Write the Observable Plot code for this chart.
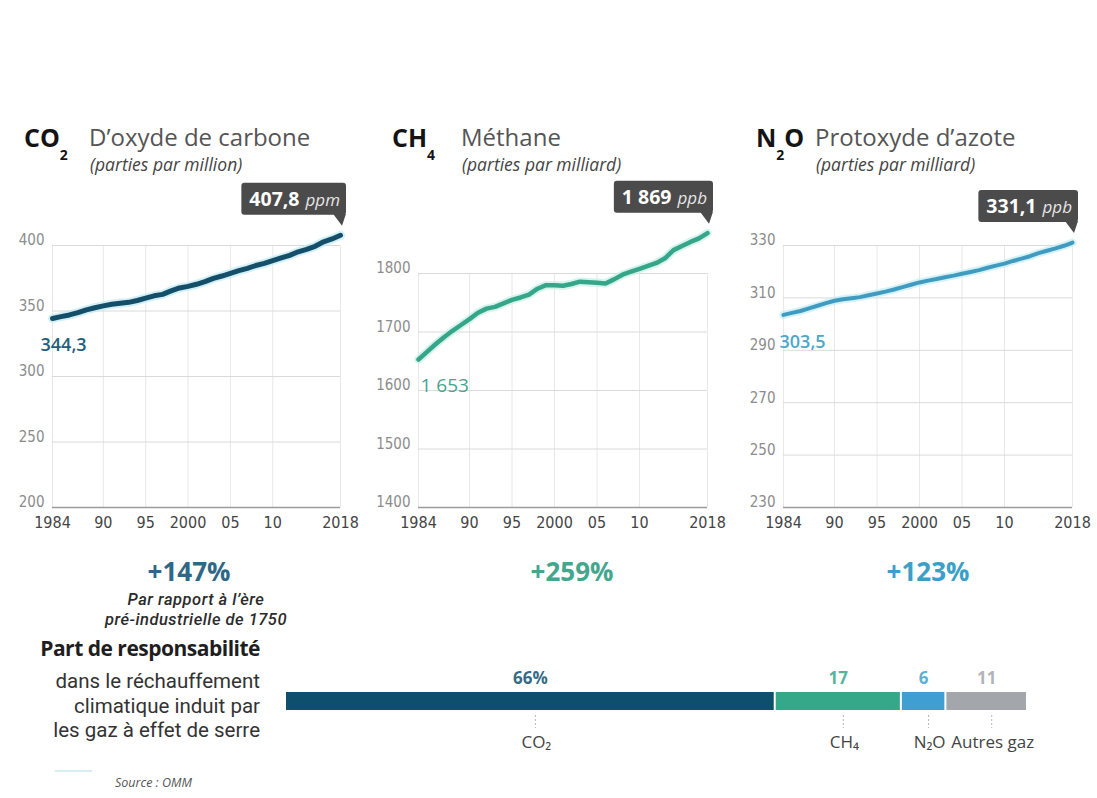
<!DOCTYPE html>
<html>
<head>
<meta charset="utf-8">
<script src="https://cdn.jsdelivr.net/npm/d3@7"></script>
<script src="https://cdn.jsdelivr.net/npm/@observablehq/plot@0.6"></script>
<style>
  html, body { margin: 0; padding: 0; background: #fff; }
  #page { position: relative; width: 1097px; height: 798px; overflow: hidden; background: #fff; font-family: "Open Sans", sans-serif; }
  .panel { position: absolute; }
  #overlay { position: absolute; left: 0; top: 0; pointer-events: none; }
</style>
</head>
<body>
<div id="page"></div>
<script>
// Annual global mean concentrations, 1984–2018
const years = [1984, 1985, 1986, 1987, 1988, 1989, 1990, 1991, 1992, 1993, 1994, 1995, 1996, 1997, 1998, 1999,
  2000, 2001, 2002, 2003, 2004, 2005, 2006, 2007, 2008, 2009, 2010, 2011, 2012, 2013, 2014, 2015, 2016, 2017, 2018];
const co2 = [344.3, 345.7, 347.0, 348.7, 350.9, 352.5, 353.9, 355.2, 355.9, 356.6, 358.0, 359.8, 361.6, 362.7, 365.4, 367.6,
  368.8, 370.4, 372.4, 374.9, 376.7, 378.7, 380.8, 382.6, 384.7, 386.3, 388.5, 390.5, 392.5, 395.2, 397.1, 399.4, 402.8, 405.0, 407.8];
const ch4 = [1653, 1666, 1679, 1691, 1702, 1712, 1722, 1733, 1740, 1743, 1749, 1755, 1759, 1764, 1774, 1780,
  1780, 1779, 1782, 1786, 1785, 1784, 1783, 1790, 1798, 1803, 1808, 1813, 1818, 1826, 1840, 1847, 1854, 1860, 1869];
const n2o = [303.5, 304.3, 305.0, 306.0, 307.0, 308.0, 308.9, 309.5, 309.9, 310.3, 311.0, 311.7, 312.4, 313.2, 314.1, 315.0,
  315.9, 316.6, 317.2, 317.9, 318.5, 319.2, 319.9, 320.6, 321.5, 322.3, 323.1, 324.1, 325.0, 325.9, 327.1, 328.0, 328.9, 329.9, 331.1];

// Axis ticks
const xTicks = [1984, 1990, 1995, 2000, 2005, 2010, 2018];
const xTickLabels = ["1984", "90", "95", "2000", "05", "10", "2018"];
const co2Ticks = [200, 250, 300, 350, 400];
const ch4Ticks = [1400, 1500, 1600, 1700, 1800];
const n2oTicks = [230, 250, 270, 290, 310, 330];

// Headings
const formulas = [["CO", "2", ""], ["CH", "4", ""], ["N", "2", "O"]];
const gasNames = ["D’oxyde de carbone", "Méthane", "Protoxyde d’azote"];
const unitNames = ["(parties par million)", "(parties par milliard)", "(parties par milliard)"];
const unitShort = ["ppm", "ppb", "ppb"];
const changes = ["+147%", "+259%", "+123%"];

// Share of warming
const gases = ["CO₂", "CH₄", "N₂O", "Autres gaz"];
const shares = [66, 17, 6, 11];
const shareLabels = ["66%", "17", "6", "11"];

const fr = d3.formatLocale({decimal: ",", thousands: "\u00a0", grouping: [3], currency: ["", " €"]});
const fmt1 = fr.format(",.1f");
const fmt0 = fr.format(",d");

const page = document.getElementById("page");
const tickFont = "'DejaVu Sans Condensed', 'Open Sans', sans-serif";
const tickLabel = new Map(xTicks.map((t, i) => [t, xTickLabels[i]]));

const panels = [
  {values: co2, ticks: co2Ticks, left: 0, width: 360, mL: 52, mR: 20, mT: 65,
   color: "#144e69", halo: "#bfeaf2", sw: 5, fmt: fmt1, unit: unitShort[0],
   startColor: "#245f79", startDx: -12, startDy: 27, startSize: 18, startWeight: 600},
  {values: ch4, ticks: ch4Ticks, left: 360, width: 370, mL: 58, mR: 23, mT: 93,
   color: "#36a68a", halo: "#c6f0e4", sw: 4.5, fmt: fmt0, unit: unitShort[1],
   startColor: "#45a58f", startDx: 2, startDy: 26, startSize: 19, startWeight: 400},
  {values: n2o, ticks: n2oTicks, left: 730, width: 367, mL: 53, mR: 25, mT: 65,
   color: "#3f9cc0", halo: "#c4ecf5", sw: 4, fmt: fmt1, unit: unitShort[2],
   startColor: "#4ea7c9", startDx: -4, startDy: 27, startSize: 18, startWeight: 600}
];

function drawPanel(p) {
  const data = years.map((year, i) => ({year, value: p.values[i]}));
  const [y0, y1] = d3.extent(p.ticks);
  const plot = Plot.plot({
    width: p.width,
    height: 360,
    marginLeft: p.mL,
    marginRight: p.mR,
    marginTop: p.mT,
    marginBottom: 33,
    style: {background: "transparent", overflow: "visible", fontFamily: tickFont},
    x: {domain: [1984, 2018], axis: null, label: null},
    y: {domain: [y0, y1], axis: null, label: null},
    marks: [
      Plot.ruleX(xTicks, {stroke: "#e8e8e8"}),
      Plot.ruleY(p.ticks.slice(1), {stroke: "#dadada"}),
      Plot.ruleY([y0], {stroke: "#9c9c9c", strokeWidth: 1.5}),
      Plot.axisX(xTicks, {tickSize: 0, tickPadding: 9, tickFormat: d => tickLabel.get(d), fontSize: 16, fill: "#444", label: null}),
      Plot.axisY(p.ticks, {tickSize: 0, tickPadding: 8, dy: -5, tickFormat: d => String(d), fontSize: 15, fill: "#8c8c8c", label: null}),
      Plot.line(data, {x: "year", y: "value", stroke: p.halo, strokeWidth: p.sw + 4, strokeOpacity: 0.7}),
      Plot.line(data, {x: "year", y: "value", stroke: p.color, strokeWidth: p.sw}),
      Plot.text([data[0]], {x: "year", y: "value", text: d => p.fmt(d.value), dx: p.startDx, dy: p.startDy,
        textAnchor: "start", fill: p.startColor, fontSize: p.startSize, fontWeight: p.startWeight,
        fontFamily: "'Open Sans', sans-serif"})
    ]
  });
  const holder = document.createElement("div");
  holder.className = "panel";
  holder.style.left = p.left + "px";
  holder.style.top = "180px";
  holder.appendChild(plot);
  page.appendChild(holder);

  // value callout at the last point
  const last = data[data.length - 1];
  const px = plot.scale("x").apply(last.year);
  const py = plot.scale("y").apply(last.value);
  const svg = d3.select(plot);
  const g = svg.append("g").attr("font-family", "'Open Sans', sans-serif");
  const right = px + 6, bottom = py - 20;
  const t = g.append("text").attr("x", right - 6).attr("y", bottom - 9).attr("text-anchor", "end");
  t.append("tspan").attr("font-weight", 700).attr("font-size", 19.5).attr("fill", "#fff").text(p.fmt(last.value));
  t.append("tspan").attr("font-style", "italic").attr("font-size", 17).attr("fill", "#e6e6e6").attr("dx", 6).text(p.unit);
  const bb = t.node().getBBox();
  g.insert("rect", "text")
    .attr("x", bb.x - 8).attr("y", bottom - 32)
    .attr("width", bb.width + 14).attr("height", 32)
    .attr("rx", 3).attr("fill", "#4b4b4b");
  g.insert("path", "text")
    .attr("d", `M${right - 13},${bottom - 1}L${right},${bottom - 1}L${px + 2},${py - 9}Z`)
    .attr("fill", "#4b4b4b");
}

panels.forEach(drawPanel);

// Stacked share bar
const shareData = gases.map((gas, i) => ({gas, share: shares[i], label: shareLabels[i]}));
const barColors = ["#0e4f6e", "#36a88a", "#3f9fd2", "#a3a6aa"];
const bar = Plot.plot({
  width: 1097,
  height: 110,
  marginLeft: 285,
  marginRight: 70,
  marginTop: 37,
  marginBottom: 55,
  style: {background: "transparent", overflow: "visible", fontFamily: "'Open Sans', sans-serif"},
  x: {domain: [0, 100], axis: null},
  color: {domain: gases, range: barColors},
  marks: [
    Plot.barX(shareData, Plot.stackX({x: "share", fill: "gas", insetLeft: 1, insetRight: 1})),
    Plot.text(shareData, Plot.stackX({x: "share", text: "label", fill: "gas", frameAnchor: "top", lineAnchor: "bottom",
      dy: -9, fontSize: 17, fontWeight: 700, fillOpacity: 0.85})),
    Plot.ruleX(shareData, Plot.stackX({x: "share", dx: 5, insetTop: 23, insetBottom: -18, stroke: "#b5b5b5", strokeDasharray: "2,2"})),
    Plot.text(shareData, Plot.stackX({x: "share", text: "gas", frameAnchor: "bottom", lineAnchor: "top",
      dx: 6, dy: 25, fontSize: 17, fill: "#444"}))
  ]
});
const barHolder = document.createElement("div");
barHolder.className = "panel";
barHolder.style.left = "0px";
barHolder.style.top = "655px";
barHolder.appendChild(bar);
page.appendChild(barHolder);

// Headings and notes
const ov = d3.select(page).append("svg").attr("id", "overlay").attr("width", 1097).attr("height", 798)
  .attr("font-family", "'Open Sans', sans-serif");

const headX = [24, 392, 756];
const nameX = [89, 461, 815];
const changeX = [189, 572, 928];
const changeColors = ["#2e6887", "#42a78d", "#3ba0c8"];

formulas.forEach((f, i) => {
  const t = ov.append("text").attr("x", headX[i]).attr("y", 147)
    .attr("font-size", 25).attr("font-weight", 700).attr("fill", "#141414");
  t.append("tspan").text(f[0]);
  t.append("tspan").attr("font-size", 14).attr("dy", 13).text(f[1]);
  if (f[2]) t.append("tspan").attr("dy", -13).text(f[2]);
  ov.append("text").attr("x", nameX[i]).attr("y", 146).attr("font-size", 24).attr("fill", "#555").text(gasNames[i]);
  ov.append("text").attr("x", nameX[i] + 1).attr("y", 171).attr("font-size", 17.5).attr("font-style", "italic")
    .attr("fill", "#444").text(unitNames[i]);
  ov.append("text").attr("x", changeX[i]).attr("y", 581).attr("text-anchor", "middle")
    .attr("font-size", 26).attr("font-weight", 700).attr("fill", changeColors[i]).text(changes[i]);
});

const baseNote = ["Par rapport à l’ère", "pré-industrielle de 1750"];
baseNote.forEach((s, i) => {
  ov.append("text").attr("x", 196).attr("y", 605 + i * 19.5).attr("text-anchor", "middle")
    .attr("font-family", "Roboto, sans-serif").attr("font-size", 16.5).attr("font-style", "italic")
    .attr("font-weight", 500).attr("letter-spacing", 0.5).attr("fill", "#2b2b2b").text(s);
});

const shareTitle = "Part de responsabilité";
const shareNote = ["dans le réchauffement", "climatique induit par", "les gaz à effet de serre"];
ov.append("text").attr("x", 260).attr("y", 656).attr("text-anchor", "end")
  .attr("font-size", 21).attr("font-weight", 700).attr("letter-spacing", -0.5).attr("fill", "#1e1e1e").text(shareTitle);
shareNote.forEach((s, i) => {
  ov.append("text").attr("x", 260).attr("y", 688 + i * 24.5).attr("text-anchor", "end")
    .attr("font-family", "Roboto, sans-serif").attr("font-size", 20.5).attr("fill", "#333").text(s);
});

ov.append("line").attr("x1", 55).attr("x2", 92).attr("y1", 771).attr("y2", 771).attr("stroke", "#d8ecf4").attr("stroke-width", 2);
ov.append("text").attr("x", 115).attr("y", 787).attr("font-size", 12.5).attr("font-style", "italic")
  .attr("fill", "#555").text("Source : OMM");
</script>
</body>
</html>
